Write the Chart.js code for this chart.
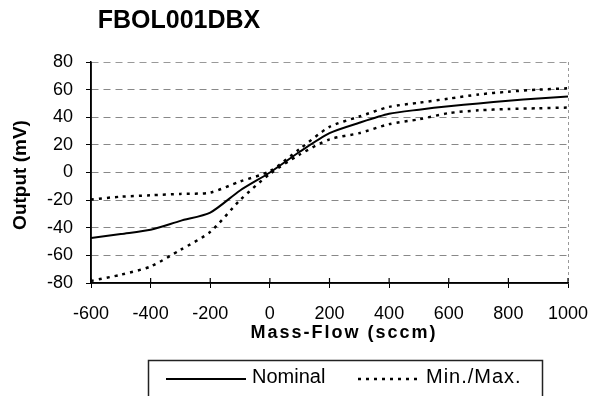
<!DOCTYPE html>
<html>
<head>
<meta charset="utf-8">
<script src="https://cdn.jsdelivr.net/npm/chart.js@4"></script>
<style>
  html, body { margin: 0; padding: 0; background: #fff; }
  #wrap { width: 599px; height: 396px; }
</style>
</head>
<body>
<div id="wrap"><canvas id="chart" width="599" height="396"></canvas></div>
<script>
// mass flow (sccm) and sensor output (mV)
const massFlow = [-600, -500, -400, -300, -200, -100, 0, 100, 200, 300, 400, 500, 600, 700, 800, 900, 1000];
const nominal = [-47.5, -44.5, -41.5, -35, -29, -13, 0, 15, 28.5, 36, 42.5, 45.5, 48, 50, 52, 53.5, 55];
const maxOut = [-19.5, -17.5, -16.5, -15.5, -14.5, -6.5, 1, 17, 33, 40.5, 47.5, 50.5, 53.5, 56.5, 58.5, 60, 61];
const minOut = [-78.5, -74, -68, -56, -43, -20, -1, 13, 24, 28.5, 35, 38.5, 43, 45, 46, 46.5, 47];

const chartTitle = 'FBOL001DBX';
const xTitle = 'Mass-Flow (sccm)';
const yTitle = 'Output (mV)';
const legendLabels = ['Nominal', 'Min./Max.'];

const font = "'Liberation Sans', Arial, sans-serif";
Chart.defaults.font.family = font;
Chart.defaults.color = '#000';

const pts = (ys) => massFlow.map((x, i) => ({ x: x, y: ys[i] }));

const dotted = [3, 5];

// solid left/bottom axis lines (the scale border shares the grid dash)
const axes = {
  id: 'axes',
  beforeDatasetsDraw(chart) {
    const { ctx, chartArea: a } = chart;
    ctx.save();
    ctx.strokeStyle = '#000';
    ctx.lineWidth = 1.5;
    ctx.beginPath();
    ctx.moveTo(a.left, a.top);
    ctx.lineTo(a.left, a.bottom);
    ctx.lineTo(a.right, a.bottom);
    ctx.stroke();
    // tick marks on the x axis poke up into the plot as well
    ctx.lineWidth = 1.2;
    const xs = chart.scales.x;
    xs.ticks.forEach((t) => {
      const px = xs.getPixelForValue(t.value);
      ctx.beginPath();
      ctx.moveTo(px, a.bottom - 5);
      ctx.lineTo(px, a.bottom);
      ctx.stroke();
    });
    ctx.restore();
  }
};

// titles and the boxed legend are drawn by hand so they sit where the original has them
const extras = {
  id: 'extras',
  afterDraw(chart) {
    const ctx = chart.ctx;
    ctx.save();
    ctx.fillStyle = '#000';
    ctx.textBaseline = 'middle';
    ctx.textAlign = 'center';

    ctx.font = 'bold 25px ' + font;
    ctx.fillText(chartTitle, 179, 21);

    ctx.font = 'bold 18px ' + font;
    ctx.letterSpacing = '2px';
    ctx.fillText(xTitle, 344, 333);
    ctx.letterSpacing = '0px';

    ctx.font = 'bold 19px ' + font;
    ctx.save();
    ctx.translate(21, 175);
    ctx.rotate(-Math.PI / 2);
    ctx.fillText(yTitle, 0, 0);
    ctx.restore();

    // legend box (runs off the bottom edge like the scan)
    ctx.strokeStyle = '#222';
    ctx.lineWidth = 1.5;
    ctx.strokeRect(148.5, 360.5, 394, 60);

    const ly = 379;
    ctx.lineWidth = 2;
    ctx.strokeStyle = '#000';
    ctx.beginPath();
    ctx.moveTo(166, ly);
    ctx.lineTo(246, ly);
    ctx.stroke();

    ctx.lineWidth = 2.5;
    ctx.setLineDash(dotted);
    ctx.beginPath();
    ctx.moveTo(358, ly);
    ctx.lineTo(421, ly);
    ctx.stroke();
    ctx.setLineDash([]);

    ctx.font = '20px ' + font;
    ctx.textAlign = 'left';
    ctx.fillText(legendLabels[0], 252, 377);
    ctx.letterSpacing = '1px';
    ctx.fillText(legendLabels[1], 426, 377);
    ctx.restore();
  }
};

new Chart(document.getElementById('chart'), {
  type: 'line',
  data: {
    datasets: [
      {
        label: legendLabels[0],
        data: pts(nominal),
        borderColor: '#000',
        borderWidth: 2,
        pointRadius: 0,
        tension: 0.25
      },
      {
        label: 'Max.',
        data: pts(maxOut),
        borderColor: '#000',
        borderWidth: 2.5,
        borderDash: dotted,
        pointRadius: 0,
        tension: 0.25
      },
      {
        label: 'Min.',
        data: pts(minOut),
        borderColor: '#000',
        borderWidth: 2.5,
        borderDash: dotted,
        pointRadius: 0,
        tension: 0.25
      }
    ]
  },
  options: {
    responsive: false,
    animation: false,
    layout: {
      padding: { top: 62, right: 31, bottom: 73, left: 0 }
    },
    plugins: {
      legend: { display: false },
      title: { display: false },
      tooltip: { enabled: false }
    },
    scales: {
      x: {
        type: 'linear',
        min: -600,
        max: 1000,
        afterFit: (s) => {
          s.height = 40;
          s.paddingLeft = 0;
          s.paddingRight = 0;
        },
        ticks: {
          stepSize: 200,
          padding: 15,
          font: { size: 18 },
          color: '#000',
          callback: (v) => String(v)
        },
        grid: {
          color: (c) => (c.tick && c.tick.value === 1000 ? '#999' : 'rgba(0,0,0,0)'),
          tickColor: '#000',
          tickLength: 5
        },
        border: { color: '#000', width: 1.5, dash: [3, 3] }
      },
      y: {
        min: -80,
        max: 80,
        afterFit: (s) => { s.width = 91; },
        ticks: {
          stepSize: 20,
          padding: 13,
          font: { size: 18 },
          color: '#000'
        },
        grid: {
          color: (c) => {
            if (!c.tick) return '#888';
            if (c.tick.value === -80) return 'rgba(0,0,0,0)';
            if (c.tick.value === 80) return '#999';
            return '#888';
          },
          tickColor: '#000',
          tickLength: 5
        },
        border: { color: '#000', width: 1.5, dash: [7, 5] }
      }
    }
  },
  plugins: [axes, extras]
});
</script>
</body>
</html>
